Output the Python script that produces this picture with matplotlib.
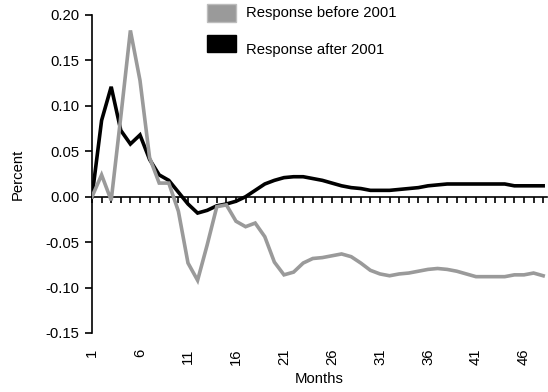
import matplotlib
matplotlib.use("Agg")
import matplotlib.pyplot as plt
from matplotlib.patches import Rectangle

# Data
months = list(range(1, 49))

before_2001 = [0.000, 0.024, -0.004, 0.088, 0.183, 0.128, 0.043, 0.015, 0.015, -0.016,
               -0.073, -0.092, -0.053, -0.011, -0.009, -0.027, -0.033, -0.029, -0.044, -0.072,
               -0.086, -0.083, -0.073, -0.068, -0.067, -0.065, -0.063, -0.066, -0.073, -0.081,
               -0.085, -0.087, -0.085, -0.084, -0.082, -0.080, -0.079, -0.080, -0.082, -0.085,
               -0.088, -0.088, -0.088, -0.088, -0.086, -0.086, -0.084, -0.087]

after_2001 = [0.000, 0.084, 0.121, 0.073, 0.058, 0.068, 0.041, 0.024, 0.018, 0.005,
              -0.008, -0.018, -0.015, -0.010, -0.008, -0.005, 0.000, 0.007, 0.014, 0.018,
              0.021, 0.022, 0.022, 0.020, 0.018, 0.015, 0.012, 0.010, 0.009, 0.007,
              0.007, 0.007, 0.008, 0.009, 0.010, 0.012, 0.013, 0.014, 0.014, 0.014,
              0.014, 0.014, 0.014, 0.014, 0.012, 0.012, 0.012, 0.012]

label_months = [1, 6, 11, 16, 21, 26, 31, 36, 41, 46]
y_ticks = [0.20, 0.15, 0.10, 0.05, 0.00, -0.05, -0.10, -0.15]

GREY = "#9a9a9a"

plt.rcParams["font.family"] = ["Liberation Sans", "DejaVu Sans"]
plt.rcParams["font.size"] = 10.7

fig = plt.figure(figsize=(5.48, 3.92), dpi=100)
ax = fig.add_axes([92 / 548, 59 / 392, 455 / 548, 318 / 392])

ax.plot(months, after_2001, color="black", lw=2.6, solid_joinstyle="miter", zorder=3)
ax.plot(months, before_2001, color=GREY, lw=2.6, solid_joinstyle="miter", zorder=4)

ax.set_xlim(1, 48.4)
ax.set_ylim(-0.15, 0.20)

# y axis
ax.set_yticks(y_ticks)
ax.set_yticklabels([f"{v:.2f}" for v in y_ticks])
ax.tick_params(axis="y", direction="out", length=5, width=1.2, pad=4)
ax.set_ylabel("Percent", labelpad=15)

# x axis sits on zero with a tick every month
for side in ("top", "right"):
    ax.spines[side].set_visible(False)
ax.spines["left"].set_linewidth(1.2)
ax.spines["bottom"].set_position(("data", 0))
ax.spines["bottom"].set_linewidth(1.2)
ax.set_xticks(months)
ax.tick_params(axis="x", direction="out", length=4, width=1.2, labelbottom=False)

# month labels at the bottom
sec = ax.secondary_xaxis("bottom")
sec.spines["bottom"].set_visible(False)
sec.set_xticks(label_months)
sec.set_xticklabels([str(m) for m in label_months], rotation=90)
sec.tick_params(length=0, pad=11)
sec.set_xlabel("Months", labelpad=5)

# legend
fig.add_artist(Rectangle((207 / 548, 1 - 22 / 392), 29 / 548, 18 / 392,
                         transform=fig.transFigure, facecolor=GREY, edgecolor="#bdbdbd", lw=1))
fig.add_artist(Rectangle((207 / 548, 1 - 52 / 392), 29 / 548, 17 / 392,
                         transform=fig.transFigure, facecolor="black", edgecolor="black", lw=1))
fig.text(246 / 548, 1 - 13 / 392, "Response before 2001", va="center", ha="left")
fig.text(246 / 548, 1 - 50 / 392, "Response after 2001", va="center", ha="left")

fig.savefig("out.png", dpi=100)
